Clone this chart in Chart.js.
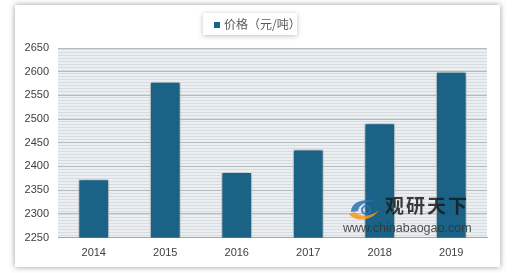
<!DOCTYPE html>
<html lang="zh">
<head>
  <meta charset="UTF-8" />
  <title>价格（元/吨）</title>
  <script src="https://cdn.jsdelivr.net/npm/chart.js@4.4.1/dist/chart.umd.min.js"></script>
  <style>
    html, body { margin: 0; padding: 0; background: #fff; }
    body { width: 520px; height: 273px; position: relative; overflow: hidden; font-family: "Noto Sans CJK SC", "Liberation Sans", sans-serif; }
    .card { position: absolute; left: 15px; top: 5px; width: 485px; height: 262px; background: #fff; box-shadow: 0 0 6px rgba(0,0,0,0.4); }
    .card canvas { position: absolute; left: 0; top: 0; }
    .legend { position: absolute; left: 188px; top: 8px; width: 94px; height: 22px; background: #fff; box-shadow: 0 1px 5px rgba(0,0,0,0.25); font-size: 12px; color: #595959; line-height: 22px; white-space: nowrap; }
    .legend i { display: inline-block; width: 6px; height: 6px; background: #1b6386; margin: 0 4px 1px 11px; vertical-align: middle; }
    .wm { position: absolute; left: 328px; top: 186px; width: 140px; height: 48px; opacity: 0.85; }
    .wm .cn { position: absolute; left: 42px; top: 0; font-size: 19px; font-weight: bold; color: #1a1a1a; letter-spacing: 2px; }
    .wm .en { position: absolute; left: 0; top: 30px; font-size: 12.5px; color: #333; font-family: "Liberation Sans", sans-serif; }
    .wm svg { position: absolute; left: 4px; top: 5px; }
  </style>
</head>
<body>
  <div class="card">
    <canvas id="chart" width="485" height="262"></canvas>
    <div class="legend"><i></i>价格（元/吨）</div>
    <div class="wm">
      <svg width="36" height="26" viewBox="0 0 36 26">
        <path d="M4 16 C4 6 16 2 30 5 C20 5 12 8 11 15 Z" fill="#2a73b8"/>
        <path d="M2 18 C8 26 24 26 32 14 C26 20 14 22 8 16 Z" fill="#f39a1e"/>
        <circle cx="19" cy="14" r="4" fill="none" stroke="#2a73b8" stroke-width="2"/>
      </svg>
      <div class="cn">观研天下</div>
      <div class="en">www.chinabaogao.com</div>
    </div>
  </div>

  <script>
    const years = ['2014', '2015', '2016', '2017', '2018', '2019'];
    const prices = [2373, 2579, 2388, 2436, 2491, 2600];
    const yMin = 2250;
    const yMax = 2650;
    const yStep = 50;

    // striped plot background like the excel pattern fill
    function makeStripes(ctx) {
      const c = document.createElement('canvas');
      c.width = 4; c.height = 3;
      const p = c.getContext('2d');
      p.fillStyle = '#ebeff1';
      p.fillRect(0, 0, 4, 3);
      p.fillStyle = '#d6dce0';
      p.fillRect(0, 2, 4, 1);
      return ctx.createPattern(c, 'repeat');
    }

    const plotBg = {
      id: 'plotBg',
      beforeDraw(chart) {
        const { ctx, chartArea: a } = chart;
        ctx.save();
        ctx.fillStyle = makeStripes(ctx);
        ctx.fillRect(a.left, a.top, a.right - a.left, a.bottom - a.top);
        ctx.restore();
      },
      beforeDatasetsDraw(chart) {
        const ctx = chart.ctx;
        ctx.save();
        ctx.shadowColor = 'rgba(0,0,0,0.45)';
        ctx.shadowBlur = 5;
      },
      afterDatasetsDraw(chart) {
        chart.ctx.restore();
      }
    };

    new Chart(document.getElementById('chart'), {
      type: 'bar',
      data: {
        labels: years,
        datasets: [{
          label: '价格（元/吨）',
          data: prices,
          backgroundColor: '#1b6386',
          borderColor: '#e8eef2',
          borderWidth: 1,
          barPercentage: 0.43,
          categoryPercentage: 1
        }]
      },
      options: {
        responsive: false,
        animation: false,
        layout: { padding: { top: 43, right: 13, left: 0, bottom: 0 } },
        plugins: {
          legend: { display: false },
          tooltip: { enabled: false }
        },
        scales: {
          x: {
            grid: { display: false, drawTicks: false },
            border: { display: true, color: '#a6a6a6' },
            ticks: { color: '#404040', font: { size: 11, family: 'Liberation Sans' }, padding: 9 },
            afterFit(s) { s.height = 29.5; }
          },
          y: {
            min: yMin,
            max: yMax,
            grid: { color: '#b4babf', lineWidth: 1, drawTicks: false },
            border: { display: false },
            ticks: {
              stepSize: yStep,
              color: '#404040',
              font: { size: 11, family: 'Liberation Sans' },
              padding: 9,
              callback: v => String(v)
            },
            afterFit(s) { s.width = 43; }
          }
        }
      },
      plugins: [plotBg]
    });
  </script>
</body>
</html>
